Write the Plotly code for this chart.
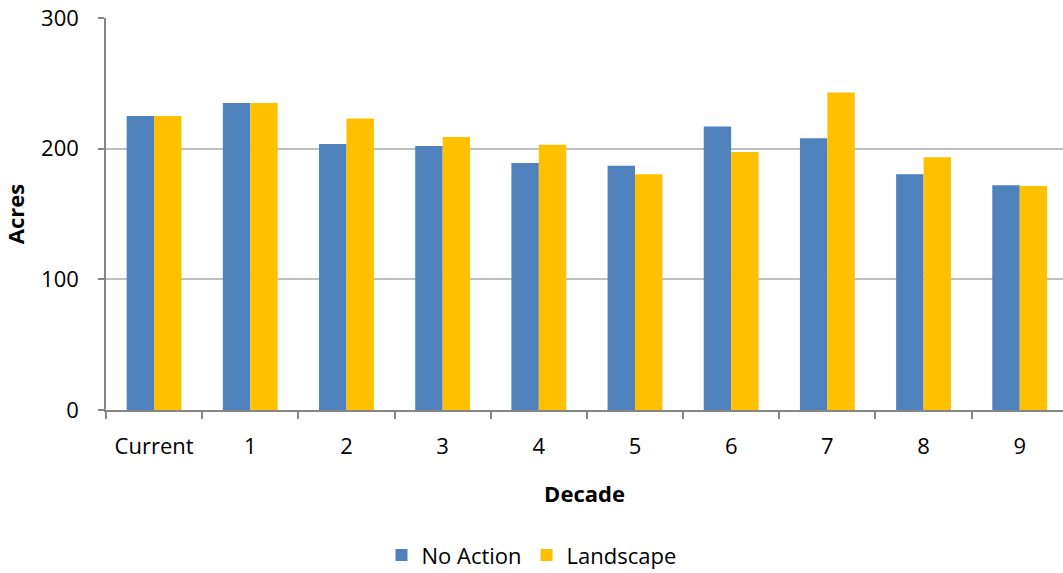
import plotly.graph_objects as go

decades = ["Current", "1", "2", "3", "4", "5", "6", "7", "8", "9"]
no_action = [225, 235, 203.5, 202, 189, 187, 217, 208, 180.5, 172]
landscape = [225, 235, 223, 209, 203, 180.5, 197.5, 243, 193.5, 171.5]

font_family = "Open Sans"
fs = 22

fig = go.Figure()
fig.add_trace(go.Bar(name="No Action", x=decades, y=no_action,
                     marker=dict(color="#4F81BD", line=dict(width=0))))
fig.add_trace(go.Bar(name="Landscape", x=decades, y=landscape,
                     marker=dict(color="#FFC000", line=dict(width=0))))

fig.update_layout(
    width=1063, height=573,
    margin=dict(l=106, r=0, t=18, b=163, autoexpand=False),
    paper_bgcolor="white", plot_bgcolor="white",
    barmode="group", bargap=0.43, bargroupgap=0,
    font=dict(family=font_family, size=fs, color="black"),
    showlegend=True,
    legend=dict(orientation="h", x=0.5, xanchor="center", y=0.031, yanchor="middle",
                xref="container", yref="container",
                font=dict(size=fs), itemwidth=30, traceorder="normal"),
)
fig.update_xaxes(
    type="category", range=[-0.5, 9.45], automargin=False,
    showline=True, linecolor="#868686", linewidth=1.5,
    ticks="outside", tickson="boundaries", ticklen=7, tickcolor="#868686", tickwidth=1.5,
    ticklabelstandoff=16,
    title=dict(text="<b>Decade</b>", standoff=27, font=dict(size=fs)),
    showgrid=False,
)
fig.update_yaxes(
    range=[0, 300], tickvals=[0, 100, 200, 300], automargin=False,
    showline=True, linecolor="#868686", linewidth=1.5,
    ticks="outside", ticklen=6, tickcolor="#868686", tickwidth=1.5,
    ticklabelstandoff=15,
    showgrid=True, gridcolor="#BFBFBF", gridwidth=1.5,
    zeroline=False,
    title=dict(text="<b>Acres</b>", standoff=10, font=dict(size=fs)),
)

fig.write_html("out.html",
               config={"displayModeBar": False},
               post_script="document.body.style.margin='0';document.body.style.overflow='hidden';")
